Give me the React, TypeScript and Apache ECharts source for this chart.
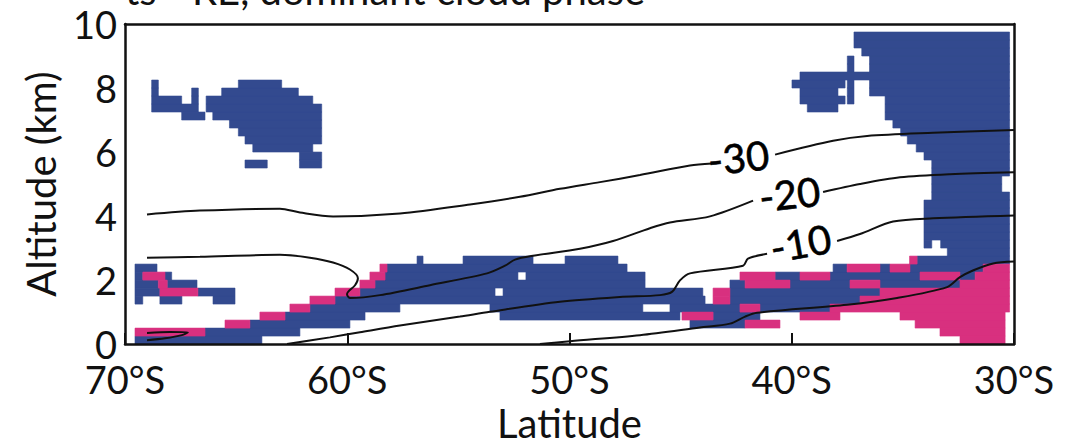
import React, { useEffect, useRef } from "react";
import * as echarts from "echarts";

// Cloud-phase cells: [altitude bottom (km), latitude from, latitude to]
const ROW_H = 0.25;

const iceRuns: [number, number, number][] = [
  [0.0, -69.55, -63.84],
  [0.25, -66.4, -62.13],
  [0.5, -64.38, -59.88], [0.5, -44.58, -42.1],
  [0.75, -62.8, -59.2], [0.75, -53.13, -45.03], [0.75, -43.54, -41.43],
  [1.0, -61.68, -57.63], [1.0, -53.58, -46.7], [1.0, -45.48, -42.33], [1.0, -41.43, -38.28],
  [1.25, -69.55, -69.2], [1.25, -68.43, -67.44], [1.25, -66.04, -65.05], [1.25, -60.55, -43.9], [1.25, -42.78, -36.93],
  [1.5, -69.55, -68.43], [1.5, -66.72, -65.05], [1.5, -59.43, -53.35], [1.5, -52.99, -44.0], [1.5, -42.78, -36.03],
  [1.75, -69.55, -68.5], [1.75, -68.1, -66.76], [1.75, -58.75, -46.6], [1.75, -42.78, -42.1], [1.75, -40.08, -37.38], [1.75, -36.03, -32.43],
  [2.0, -69.55, -69.2], [2.0, -68.2, -67.9], [2.0, -58.3, -52.32], [2.0, -51.96, -46.6], [2.0, -40.75, -39.63], [2.0, -38.28, -34.23], [2.0, -32.43, -31.75],
  [2.25, -69.55, -68.56], [2.25, -58.21, -47.41], [2.25, -38.14, -37.51], [2.25, -36.03, -35.58], [2.25, -34.68, -31.39],
  [2.5, -56.86, -56.59], [2.5, -54.79, -51.64], [2.5, -50.2, -47.82], [2.5, -34.36, -30.2],
  [2.75, -33.0, -30.2],
  [3.0, -34.05, -33.7], [3.0, -33.3, -30.2],
  [3.25, -34.05, -30.2],
  [3.5, -34.05, -30.2],
  [3.75, -34.05, -30.2],
  [4.0, -34.05, -30.2],
  [4.25, -34.05, -30.2],
  [4.5, -33.7, -30.2],
  [4.75, -33.7, -30.55],
  [5.0, -33.7, -30.55],
  [5.25, -33.7, -30.2],
  [5.5, -64.6, -63.6], [5.5, -62.15, -61.15], [5.5, -33.7, -30.2],
  [5.75, -62.15, -61.15], [5.75, -34.05, -30.2],
  [6.0, -64.25, -61.55], [6.0, -34.4, -30.2],
  [6.25, -64.6, -61.15], [6.25, -34.8, -30.2],
  [6.5, -64.9, -61.15], [6.5, -35.1, -30.2],
  [6.75, -65.3, -61.15], [6.75, -35.45, -30.2],
  [7.0, -67.45, -66.4], [7.0, -66.05, -61.15], [7.0, -35.8, -30.2],
  [7.25, -68.8, -66.7], [7.25, -66.35, -61.15], [7.25, -39.3, -37.92], [7.25, -35.8, -30.2],
  [7.5, -68.8, -67.45], [7.5, -67.0, -66.7], [7.5, -66.35, -61.55], [7.5, -39.63, -37.6], [7.5, -37.5, -37.2], [7.5, -35.8, -30.2],
  [7.75, -68.8, -68.5], [7.75, -67.0, -66.7], [7.75, -65.65, -62.2], [7.75, -39.63, -37.92], [7.75, -37.5, -37.2], [7.75, -36.5, -30.2],
  [8.0, -68.8, -68.5], [8.0, -64.9, -62.95], [8.0, -39.99, -37.6], [8.0, -37.5, -37.2], [8.0, -36.5, -30.2],
  [8.25, -39.63, -30.2],
  [8.5, -37.5, -37.2], [8.5, -36.5, -30.2],
  [8.75, -37.5, -37.2], [8.75, -36.5, -30.2],
  [9.0, -36.85, -30.2],
  [9.25, -37.2, -30.2],
  [9.5, -37.2, -30.2],
];

const liquidRuns: [number, number, number][] = [
  [0.0, -32.43, -30.4],
  [0.25, -69.55, -66.4], [0.25, -33.33, -30.4],
  [0.5, -65.5, -64.38], [0.5, -42.1, -40.53], [0.5, -34.45, -30.4],
  [0.75, -63.93, -62.8], [0.75, -44.94, -43.54], [0.75, -39.63, -37.83], [0.75, -35.13, -30.4],
  [1.0, -62.58, -61.68], [1.0, -42.33, -41.43], [1.0, -38.28, -30.2],
  [1.25, -61.68, -60.55], [1.25, -43.54, -42.78], [1.25, -36.93, -30.2],
  [1.5, -68.43, -66.72], [1.5, -60.55, -59.43], [1.5, -43.54, -42.78], [1.5, -36.03, -30.2],
  [1.75, -68.5, -68.1], [1.75, -59.43, -58.75], [1.75, -42.1, -40.08], [1.75, -37.38, -36.03], [1.75, -32.43, -30.2],
  [2.0, -69.2, -68.2], [2.0, -58.98, -58.3], [2.0, -42.33, -40.75], [2.0, -39.63, -38.28], [2.0, -34.23, -32.43], [2.0, -31.75, -30.2],
  [2.25, -58.53, -58.21], [2.25, -37.51, -36.03], [2.25, -35.58, -34.68], [2.25, -31.39, -30.2],
  [2.5, -34.7, -34.36],
];

// Temperature contours [latitude, altitude km]
const contourM30a: [number, number][] = [
  [-69.01, 4.05], [-66.63, 4.17], [-63.03, 4.23], [-62.13, 4.11], [-60.64, 3.99], [-57.63, 4.08],
  [-54.48, 4.36], [-52.23, 4.6], [-50.43, 4.85], [-48.63, 5.06], [-46.83, 5.28], [-44.58, 5.58], [-43.59, 5.64],
];
const contourM30b: [number, number][] = [
  [-40.75, 5.92], [-38.14, 6.35], [-36.61, 6.5], [-33.64, 6.6], [-30.0, 6.69],
];
const contourM20a: [number, number][] = [
  [-69.01, 2.7], [-66.63, 2.73], [-63.03, 2.79], [-61.68, 2.7], [-60.64, 2.55], [-59.88, 2.33],
  [-59.52, 2.06], [-59.65, 1.84], [-60.01, 1.56], [-59.88, 1.44], [-58.53, 1.53], [-56.28, 1.84],
  [-53.71, 2.21], [-52.9, 2.45], [-52.45, 2.64], [-51.64, 2.76], [-49.53, 2.98], [-48.04, 3.22],
  [-46.38, 3.62], [-45.48, 3.8], [-43.68, 3.99], [-41.74, 4.48],
];
const contourM20b: [number, number][] = [
  [-38.59, 4.75], [-36.93, 5.0], [-35.13, 5.21], [-32.88, 5.31], [-30.0, 5.37],
];
const contourM10loop: [number, number][] = [
  [-69.01, 0.35], [-67.98, 0.38], [-67.17, 0.37], [-67.44, 0.28], [-68.2, 0.18], [-69.01, 0.12],
];
const contourM10a: [number, number][] = [
  [-62.71, 0.0], [-60.78, 0.21], [-59.43, 0.37], [-57.63, 0.58], [-54.93, 0.86], [-53.58, 1.01],
  [-50.43, 1.32], [-47.73, 1.47], [-45.93, 1.53], [-45.39, 1.63], [-45.03, 1.99], [-44.58, 2.21],
  [-42.19, 2.45], [-41.97, 2.67], [-41.11, 2.82],
];
const contourM10b: [number, number][] = [
  [-37.96, 3.22], [-36.93, 3.44], [-35.44, 3.83], [-33.64, 3.93], [-30.0, 4.02],
];
const contourZero: [number, number][] = [
  [-51.33, 0.0], [-49.98, 0.09], [-46.83, 0.28], [-44.13, 0.52], [-42.78, 0.64], [-42.1, 0.86],
  [-41.56, 0.98], [-37.51, 1.23], [-35.26, 1.44], [-33.01, 1.78], [-32.43, 2.09], [-31.85, 2.3],
  [-30.94, 2.52], [-30.0, 2.58],
];

// Contour labels: [latitude, altitude, text, rotation]
const contourLabels: [number, number, string, number][] = [
  [-42.4, 5.83, "-30", 6],
  [-40.1, 4.69, "-20", 6],
  [-39.6, 3.16, "-10", 10],
];

const xTicks = [-70, -60, -50, -40, -30];
const TITLE = "ts - RE, dominant cloud phase";
const FONT = "Lato";
const INK = "#111111";
const ICE = "#334a8f";
const LIQ = "#d8307f";

function cellSeries(data: [number, number, number][], color: string) {
  return {
    type: "custom",
    data,
    dimensions: ["alt", "lat0", "lat1"],
    encode: { x: [1, 2], y: 0 },
    clip: true,
    silent: true,
    z: 2,
    renderItem: (params: any, api: any) => {
      const a = api.value(0);
      const l0 = api.value(1);
      const l1 = api.value(2);
      const p0 = api.coord([l0, a + ROW_H]);
      const p1 = api.coord([l1, a]);
      return {
        type: "rect",
        shape: { x: p0[0], y: p0[1], width: p1[0] - p0[0], height: p1[1] - p0[1] },
        style: { fill: color, stroke: color, lineWidth: 0.6 },
      };
    },
  };
}

function lineSeries(data: [number, number][]) {
  return {
    type: "line",
    data,
    showSymbol: false,
    smooth: 0.3,
    silent: true,
    z: 5,
    lineStyle: { color: INK, width: 2 },
  };
}

export default function App() {
  const ref = useRef<HTMLDivElement>(null);
  useEffect(() => {
    const chart = echarts.init(ref.current!, null, { renderer: "svg" });
    const option: any = {
      animation: false,
      backgroundColor: "#ffffff",
      textStyle: { fontFamily: FONT },
      grid: { left: 125, right: 57, top: 24, bottom: 98, show: false },
      graphic: [
        {
          type: "text",
          x: 125,
          y: 10,
          style: {
            text: TITLE,
            fontSize: 40,
            fontFamily: FONT,
            fill: INK,
            verticalAlign: "bottom",
          },
        },
      ],
      xAxis: [
        {
          type: "value",
          min: -70,
          max: -30,
          interval: 10,
          position: "bottom",
          z: 10,
          axisLine: { show: true, onZero: false, lineStyle: { color: INK, width: 2.5 } },
          axisTick: { show: true, inside: true, length: 11, lineStyle: { color: INK, width: 2 } },
          axisLabel: {
            fontSize: 38,
            lineHeight: 30,
            fontFamily: FONT,
            color: INK,
            margin: 20,
            formatter: (v: number) => (xTicks.includes(v) ? Math.abs(v) + "°S" : ""),
          },
          splitLine: { show: false },
          name: "Latitude",
          nameLocation: "middle",
          nameGap: 54,
          nameTextStyle: { fontSize: 40, fontFamily: FONT, color: INK },
        },
        {
          type: "value",
          min: -70,
          max: -30,
          position: "top",
          z: 10,
          axisLine: { show: true, onZero: false, lineStyle: { color: INK, width: 2.5 } },
          axisTick: { show: false },
          axisLabel: { show: false },
          splitLine: { show: false },
        },
      ],
      yAxis: [
        {
          type: "value",
          min: 0,
          max: 10,
          interval: 2,
          position: "left",
          z: 10,
          axisLine: { show: true, onZero: false, lineStyle: { color: INK, width: 2.5 } },
          axisTick: { show: false },
          axisLabel: { fontSize: 38, lineHeight: 30, fontFamily: FONT, color: INK, margin: 8 },
          splitLine: { show: false },
          name: "Altitude (km)",
          nameLocation: "middle",
          nameGap: 64,
          nameRotate: 90,
          nameTextStyle: { fontSize: 40, fontFamily: FONT, color: INK },
        },
        {
          type: "value",
          min: 0,
          max: 10,
          position: "right",
          z: 10,
          axisLine: { show: true, onZero: false, lineStyle: { color: INK, width: 2.5 } },
          axisTick: { show: false },
          axisLabel: { show: false },
          splitLine: { show: false },
        },
      ],
      series: [
        cellSeries(iceRuns, ICE),
        cellSeries(liquidRuns, LIQ),
        lineSeries(contourM30a),
        lineSeries(contourM30b),
        lineSeries(contourM20a),
        lineSeries(contourM20b),
        lineSeries(contourM10loop),
        lineSeries(contourM10a),
        lineSeries(contourM10b),
        lineSeries(contourZero),
        {
          type: "scatter",
          symbolSize: 0,
          silent: true,
          z: 6,
          data: contourLabels.map((d) => ({
            value: [d[0], d[1]],
            name: d[2],
            label: { rotate: d[3] },
          })),
          label: {
            show: true,
            position: "inside",
            fontSize: 40,
            fontFamily: FONT,
            color: "#000000",
            opacity: 1,
            textBorderColor: "#000000",
            textBorderWidth: 0.6,
            formatter: (p: any) => p.name,
          },
        },
      ],
    };
    chart.setOption(option);
    return () => chart.dispose();
  }, []);
  return (
    <div
      ref={ref}
      style={{ position: "absolute", left: 0, top: 0, width: 1071, height: 448, background: "#fff" }}
    />
  );
}
